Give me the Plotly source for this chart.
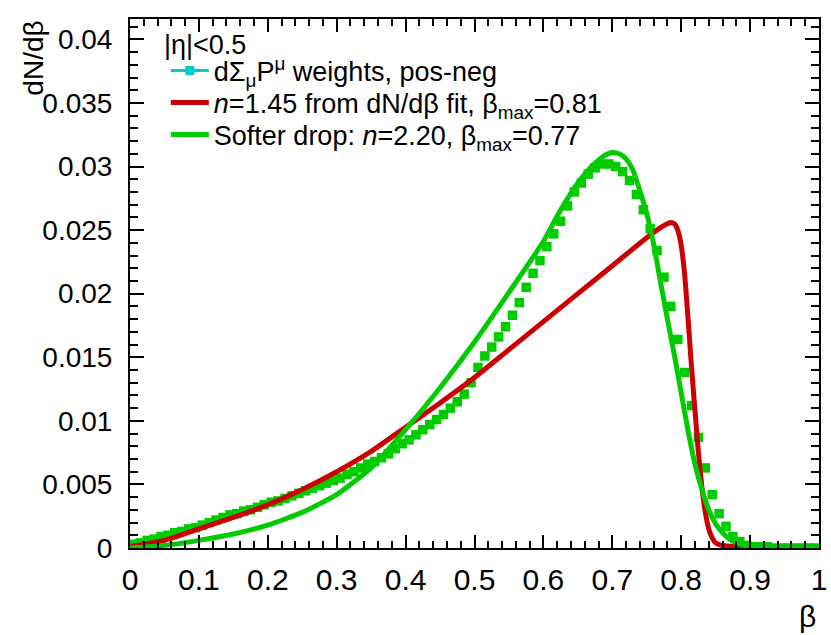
import plotly.graph_objects as go

# ---- data points (bin centres, dN/dbeta) ----
beta_pts = [round(0.005 + 0.01 * i, 3) for i in range(100)]
dndb_pts = [
    0.0003, 0.0004, 0.0006, 0.0007, 0.0009, 0.0010, 0.0012, 0.0013, 0.0015, 0.0016,
    0.0018, 0.0020, 0.0022, 0.0024, 0.0026, 0.0027, 0.0029, 0.0030, 0.0032, 0.0034,
    0.0036, 0.0037, 0.0039, 0.0041, 0.0043, 0.0045, 0.0047, 0.0049, 0.0051, 0.0053,
    0.0055, 0.0058, 0.0060, 0.0063, 0.0066, 0.0068, 0.0071, 0.0074, 0.0078, 0.0082,
    0.0085, 0.0089, 0.0093, 0.0097, 0.0101, 0.0105, 0.0110, 0.0115, 0.0121, 0.0130,
    0.0142, 0.0151, 0.0158, 0.0166, 0.0174, 0.0183, 0.0193, 0.0205, 0.0216, 0.0226,
    0.0237, 0.0247, 0.0257, 0.0269, 0.0280, 0.0287, 0.0294, 0.0299, 0.0302, 0.0302,
    0.0300, 0.0296, 0.0289, 0.0278, 0.0266, 0.0251, 0.0234, 0.0213, 0.0190, 0.0164,
    0.0138, 0.0112, 0.0087, 0.0063, 0.0042, 0.0027, 0.0017, 0.0009, 0.0005, 0.0002,
    0.0001, 0.0001, 0.0001, 0.0000, 0.0000, 0.0000, 0.0000, 0.0000, 0.0000, 0.0000,
]

# ---- red curve: n=1.45 fit, beta_max=0.81 ----
beta_red = [0.0, 0.05, 0.1, 0.15, 0.2, 0.25, 0.3, 0.35, 0.4, 0.45, 0.5, 0.55, 0.6,
            0.65, 0.7, 0.75, 0.77, 0.78, 0.785, 0.79, 0.795, 0.8, 0.805, 0.81, 0.815,
            0.82, 0.825, 0.83, 0.835, 0.84, 0.845, 0.85, 0.86, 0.88, 0.92, 1.0]
dndb_red = [0.0001, 0.0006, 0.0015, 0.0024, 0.0034, 0.0046, 0.0060, 0.0076, 0.0095,
            0.0114, 0.0134, 0.0156, 0.0178, 0.0200, 0.0222, 0.0244, 0.0252, 0.0255,
            0.0256, 0.0255, 0.0250, 0.0238, 0.0215, 0.0180, 0.0142, 0.0108, 0.0075,
            0.0048, 0.0028, 0.0015, 0.0008, 0.0004, 0.0002, 0.0001, 0.0, 0.0]

# ---- green curve: softer drop n=2.20, beta_max=0.77 ----
beta_grn = [0.0, 0.05, 0.1, 0.15, 0.2, 0.25, 0.3, 0.35, 0.4, 0.45, 0.5, 0.55, 0.6,
            0.62, 0.64, 0.65, 0.66, 0.67, 0.68, 0.69, 0.7, 0.71, 0.72, 0.73, 0.74,
            0.75, 0.76, 0.77, 0.78, 0.79, 0.8, 0.81, 0.82, 0.83, 0.84, 0.85, 0.86,
            0.87, 0.88, 0.9, 0.95, 1.0]
dndb_grn = [0.0, 0.0002, 0.0006, 0.0011, 0.0018, 0.0028, 0.0042, 0.0063, 0.0093,
            0.0126, 0.0162, 0.0201, 0.0241, 0.0261, 0.0279, 0.0287, 0.0294, 0.0300,
            0.0305, 0.0309, 0.0311, 0.0310, 0.0306, 0.0297, 0.0281, 0.0263, 0.0239,
            0.0209, 0.0180, 0.0152, 0.0122, 0.0092, 0.0066, 0.0046, 0.0030, 0.0019,
            0.0012, 0.0007, 0.0004, 0.0001, 0.0, 0.0]

x_ticks = [0, 0.1, 0.2, 0.3, 0.4, 0.5, 0.6, 0.7, 0.8, 0.9, 1]
x_ticklabels = ["0", "0.1", "0.2", "0.3", "0.4", "0.5", "0.6", "0.7", "0.8", "0.9", "1"]
y_ticks = [0, 0.005, 0.01, 0.015, 0.02, 0.025, 0.03, 0.035, 0.04]
y_ticklabels = ["0", "0.005", "0.01", "0.015", "0.02", "0.025", "0.03", "0.035", "0.04"]

legend_title = "|η|<0.5"
name_pts = "dΣ<sub>μ</sub>P<sup>μ</sup> weights, pos-neg"
name_red = "<i>n</i>=1.45 from dN/dβ fit, β<sub>max</sub>=0.81"
name_grn = "Softer drop: <i>n</i>=2.20, β<sub>max</sub>=0.77"

RED = "#cc0000"
GREEN = "#00cc00"
CYAN = "#00cccc"
FONT = "Liberation Sans, Arial, Helvetica, sans-serif"
LEG_SIZE = 27

fig = go.Figure()

# legend proxy for the data points
fig.add_trace(go.Scatter(
    x=[None], y=[None], mode="lines+markers", name=name_pts, legend="legend",
    line=dict(color=CYAN, width=3),
    marker=dict(symbol="square", size=9, color=CYAN),
))
# data points
fig.add_trace(go.Scatter(
    x=beta_pts, y=dndb_pts, mode="markers", showlegend=False,
    marker=dict(symbol="square", size=9.5, color=GREEN, line=dict(width=0)),
))
fig.add_trace(go.Scatter(
    x=beta_red, y=dndb_red, mode="lines", name=name_red, legend="legend2",
    line=dict(color=RED, width=5, shape="spline", smoothing=0.5),
))
fig.add_trace(go.Scatter(
    x=beta_grn, y=dndb_grn, mode="lines", name=name_grn, legend="legend3",
    line=dict(color=GREEN, width=5, shape="spline", smoothing=0.5),
))

def leg(y):
    return dict(
        x=0.052, y=y, xanchor="left", yanchor="middle",
        bgcolor="rgba(0,0,0,0)", borderwidth=0,
        font=dict(family=FONT, size=LEG_SIZE, color="black"),
        itemwidth=38, tracegroupgap=0,
    )

fig.update_layout(
    width=831, height=635,
    margin=dict(l=130, r=4, t=19, b=87),
    paper_bgcolor="white", plot_bgcolor="white",
    font=dict(family=FONT, color="black", size=24),
    showlegend=True,
    legend=leg(0.9017),
    legend2=leg(0.8412),
    legend3=leg(0.7807),
    xaxis=dict(
        range=[0, 1], showgrid=False, zeroline=False,
        showline=True, linecolor="black", linewidth=2, mirror="allticks",
        ticks="inside", ticklen=13, tickwidth=2, tickcolor="black",
        tickvals=x_ticks, ticktext=x_ticklabels,
        tickfont=dict(family=FONT, size=30, color="black"),
        ticklabelstandoff=4, ticklabeloverflow="allow",
        minor=dict(dtick=0.02, tick0=0, ticks="inside", ticklen=7,
                   tickwidth=2, tickcolor="black", showgrid=False),
    ),
    yaxis=dict(
        range=[0, 0.0416], showgrid=False, zeroline=False,
        showline=True, linecolor="black", linewidth=2, mirror="allticks",
        ticks="inside", ticklen=14, tickwidth=2, tickcolor="black",
        tickvals=y_ticks, ticktext=y_ticklabels,
        tickfont=dict(family=FONT, size=28, color="black"),
        ticklabelstandoff=10,
        minor=dict(dtick=0.001, tick0=0, ticks="inside", ticklen=8,
                   tickwidth=2, tickcolor="black", showgrid=False),
    ),
    annotations=[
        dict(text="dN/dβ", xref="paper", yref="paper", x=-0.1406, y=1.0,
             xanchor="center", yanchor="top", textangle=-90, showarrow=False,
             font=dict(family=FONT, size=28, color="black")),
        dict(text="β", xref="paper", yref="paper", x=0.998, y=-0.095,
             xanchor="right", yanchor="top", showarrow=False,
             font=dict(family=FONT, size=30, color="black")),
        dict(text=legend_title, xref="paper", yref="paper", x=0.047, y=0.951,
             xanchor="left", yanchor="middle", showarrow=False,
             font=dict(family=FONT, size=LEG_SIZE, color="black")),
    ],
)

fig.write_html("out.html")
